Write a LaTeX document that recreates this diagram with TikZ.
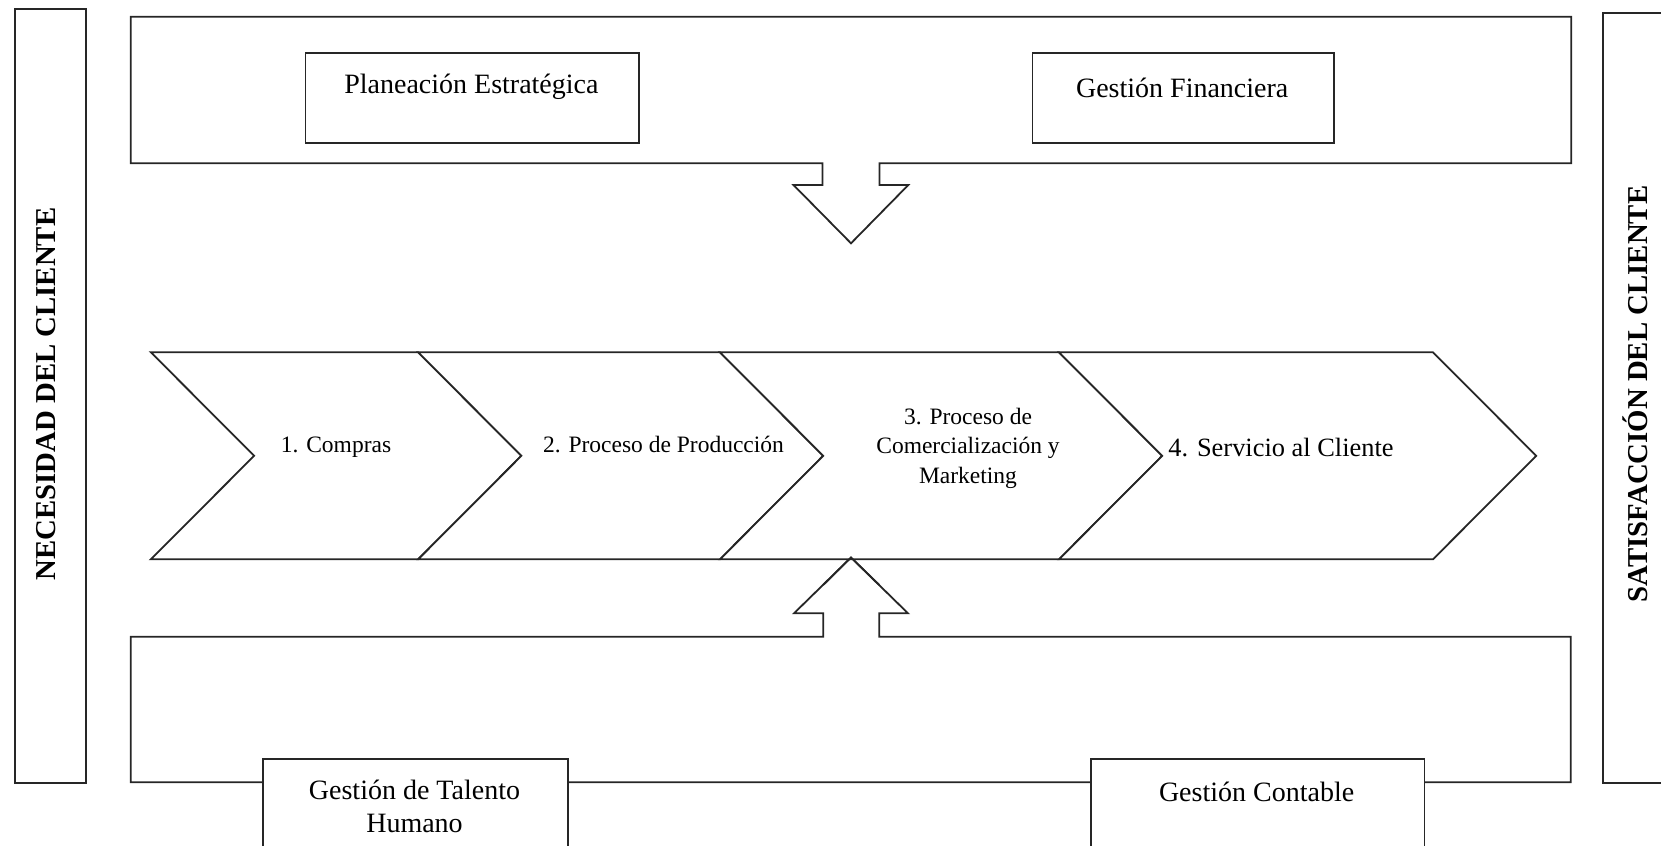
\documentclass[tikz,border=0pt]{standalone}
\usepackage{fontspec}
\setmainfont{Liberation Serif}
\begin{document}
\begin{tikzpicture}[x=0.5pt,y=-0.5pt,
  line/.style={draw=black!85, line width=0.9pt, line join=miter},
  frame/.style={line, fill=white},
  box/.style={line, fill=white, inner sep=0pt, anchor=north west},
  lbl/.style={font=\fontsize{14}{16.5}\selectfont, inner sep=0pt, align=center},
  steplbl/.style={font=\fontsize{11.75}{14.75}\selectfont, inner sep=0pt, align=center},
  side/.style={font=\fontsize{14.4}{17}\selectfont\bfseries, rotate=90, inner sep=0pt, anchor=base}]

\useasboundingbox (0,0) rectangle (1661,846);
\clip (0,0) rectangle (1661,846);

% side panels
\node[box, minimum width=35.5pt, minimum height=387pt] (need) at (14,8) {};
\node[box, minimum width=45pt, minimum height=385.2pt] (sat) at (1601.7,11.7) {};
\node[side] (needtxt) at (55,394) {NECESIDAD DEL CLIENTE};
\node[side] (sattxt) at (1647,394) {SATISFACCIÓN DEL CLIENTE};

% upper support frame with its arrow pointing down
\draw[frame] (130.8,16.7) -- (1571.3,16.7) -- (1571.3,163.3) -- (879.5,163.3)
  -- (879.5,185) -- (908.3,185) -- (851,243.3) -- (793.5,185) -- (822.5,185)
  -- (822.5,163.3) -- (130.8,163.3) -- cycle;

% lower support frame with its arrow pointing up
\draw[frame] (130.8,636.7) -- (823.2,636.7) -- (823.2,613.3) -- (794,613.3)
  -- (851,557.5) -- (908,613.3) -- (879.3,613.3) -- (879.3,636.7)
  -- (1570.8,636.7) -- (1570.8,782.3) -- (130.8,782.3) -- cycle;

% value chain chevrons
\draw[frame] (150.9,352.3) -- (418.2,352.3) -- (521.4,455.8) -- (418.2,559.3)
  -- (150.9,559.3) -- (254.1,455.8) -- cycle;
\draw[frame] (418.2,352.3) -- (720,352.3) -- (823.2,455.8) -- (720,559.3)
  -- (418.2,559.3) -- (521.4,455.8) -- cycle;
\draw[frame] (720,352.3) -- (1059,352.3) -- (1162.2,455.8) -- (1059,559.3)
  -- (720,559.3) -- (823.2,455.8) -- cycle;
\draw[frame] (1059,352.3) -- (1433,352.3) -- (1536.2,455.8) -- (1433,559.3)
  -- (1059,559.3) -- (1162.2,455.8) -- cycle;
% tip of the lower arrow over the chevron edge
\draw[line] (823.2,585) -- (851,557.5) -- (879.3,585);

\node[steplbl, anchor=base] (s1) at (336,452.5) {1. Compras};
\node[steplbl, anchor=base] (s2) at (663.5,452.5) {2. Proceso de Producción};
\node[steplbl] (s3) at (968,448) {3. Proceso de\\Comercialización y\\Marketing};
\node[steplbl, font=\fontsize{13.2}{16}\selectfont, anchor=base] (s4) at (1281,456) {4. Servicio al Cliente};

% support process boxes
\node[box, minimum width=166.95pt, minimum height=44.7pt] (plan) at (304.5,52.3) {};
\node[lbl, anchor=base] (plantxt) at (471.4,93.5) {Planeación Estratégica};
\node[box, minimum width=150.75pt, minimum height=44.7pt] (fin) at (1031.5,52.3) {};
\node[lbl, anchor=base] (fintxt) at (1182.2,97) {Gestión Financiera};
\node[box, minimum width=152.5pt, minimum height=50pt] (tal) at (262,757.7) {};
\node[lbl] (taltxt) at (414.5,806) {Gestión de Talento\\Humano};
\node[box, minimum width=166.9pt, minimum height=50pt] (cont) at (1089.7,757.7) {};
\node[lbl, anchor=base] (conttxt) at (1256.6,801) {Gestión Contable};
\end{tikzpicture}
\end{document}
